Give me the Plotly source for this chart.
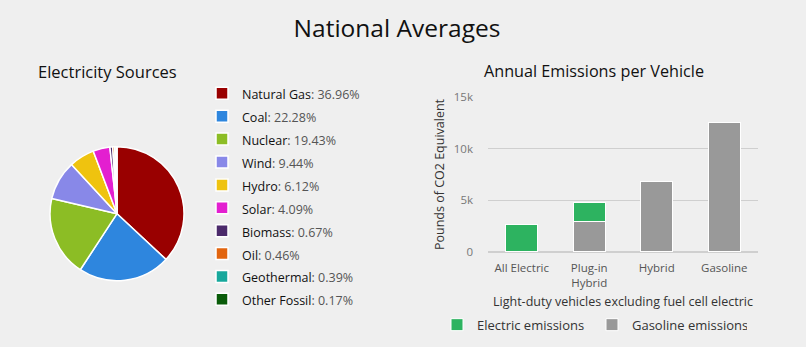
import plotly.graph_objects as go

sources = ["Natural Gas", "Coal", "Nuclear", "Wind", "Hydro", "Solar", "Biomass", "Oil", "Geothermal", "Other Fossil"]
shares = [36.96, 22.28, 19.43, 9.44, 6.12, 4.09, 0.67, 0.46, 0.39, 0.17]
source_colors = ["#990000", "#2e86de", "#8cbd25", "#8888e8", "#efc30f", "#e31fd0", "#4b2a6b", "#e2640e", "#17a89c", "#0a5c0a"]

vehicles = ["All Electric", "Plug-in<br>Hybrid", "Hybrid", "Gasoline"]
electric_emissions = [2700, 1850, 0, 0]
gasoline_emissions = [0, 2950, 6800, 12500]

FONT = "Open Sans"
BG = "#efefef"

pie_labels = [f"<span style='font-size:12.5px'><span style='color:#111'>{s}</span><span style='color:#555'>: {v:.2f}%</span></span>" for s, v in zip(sources, shares)]

fig = go.Figure()
fig.add_trace(go.Pie(
    labels=pie_labels, values=shares, sort=False, direction="clockwise", rotation=0,
    marker=dict(colors=source_colors, line=dict(color="white", width=1.5)),
    textinfo="none", hoverinfo="label", legend="legend",
    domain=dict(x=[47/806, 187/806], y=[1-285/347, 1-145/347]),
))
fig.add_trace(go.Bar(x=vehicles, y=gasoline_emissions, name="Gasoline emissions", marker=dict(color="#999999", line=dict(color="white", width=1)), legend="legend2", legendrank=2))
fig.add_trace(go.Bar(x=vehicles, y=electric_emissions, name="Electric emissions", marker=dict(color="#2db360", line=dict(color="white", width=1)), legend="legend2", legendrank=1))

fig.update_layout(
    width=806, height=347, margin=dict(l=0, r=0, t=0, b=0),
    paper_bgcolor=BG, plot_bgcolor=BG,
    font=dict(family=FONT, color="#333", size=12),
    barmode="stack", bargap=0.52,
    title=dict(text="National Averages", x=397/806, xanchor="center", y=1-28/347, yanchor="middle", font=dict(size=24.5, color="#111", family=FONT)),
    xaxis=dict(domain=[488/806, 758/806], tickfont=dict(size=11.5, color="#555"), showgrid=False, zeroline=False,
               showline=False, ticks="", ticklabelstandoff=8,
               title=dict(text="Light-duty vehicles excluding fuel cell electric", font=dict(size=12.5, color="#333"), standoff=7)),
    yaxis=dict(domain=[1-255/347, 1-93/347], range=[0, 15000], tickvals=[0, 5000, 10000, 15000], ticktext=["0", "5k", "10k", "15k"],
               tickfont=dict(size=11.5, color="#777"), gridcolor="#cfcfcf", gridwidth=1, zeroline=True, zerolinecolor="#cfcfcf",
               ticks="", ticklabelstandoff=14,
               title=dict(text="Pounds of CO2 Equivalent", font=dict(size=12.5, color="#333"), standoff=6)),
    legend=dict(x=202/806, y=1-72/347, xanchor="left", yanchor="top", bgcolor="rgba(0,0,0,0)",
                font=dict(size=15.3, family=FONT), itemclick=False, traceorder="normal", itemwidth=30),
    legend2=dict(orientation="h", x=437/806, y=1-331/347, xanchor="left", yanchor="middle", bgcolor="rgba(0,0,0,0)",
                 font=dict(size=13, color="#333", family=FONT), traceorder="normal", entrywidth=110),
    annotations=[
        dict(text="Electricity Sources", x=36/806, y=1-66/347, xref="paper", yref="paper", xanchor="left", yanchor="middle",
             showarrow=False, font=dict(size=16.5, color="#111", family=FONT)),
        dict(text="Annual Emissions per Vehicle", x=482/806, y=1-66/347, xref="paper", yref="paper", xanchor="left", yanchor="middle",
             showarrow=False, font=dict(size=16.2, color="#111", family=FONT)),
    ],
)
fig.write_html("out.html")
